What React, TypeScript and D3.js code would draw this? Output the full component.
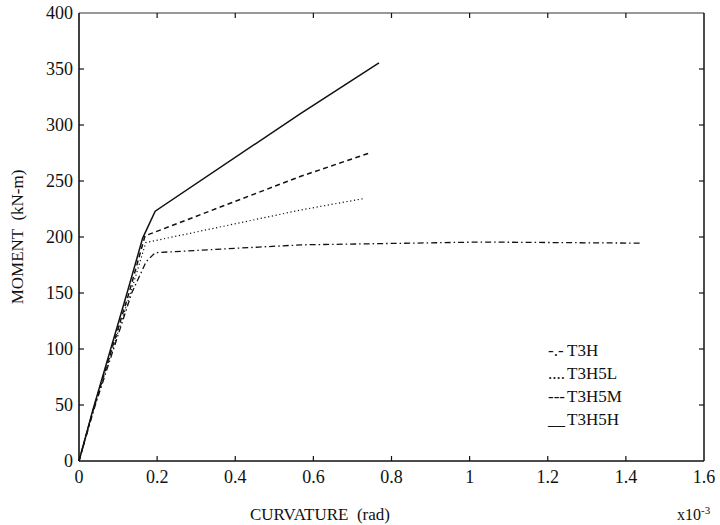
import React from "react";
import * as d3 from "d3";

const xTicks = [0, 0.2, 0.4, 0.6, 0.8, 1, 1.2, 1.4, 1.6];
const yTicks = [0, 50, 100, 150, 200, 250, 300, 350, 400];

const t3hX = [0, 0.04, 0.135, 0.172, 0.195, 0.46, 0.57, 1.03, 1.436];
const t3hY = [0, 48, 150, 178, 186, 191, 193, 195.5, 194.5];
const t3h5lX = [0, 0.04, 0.132, 0.171, 0.566, 0.732];
const t3h5lY = [0, 50, 150, 195, 224, 234.5];
const t3h5mX = [0, 0.04, 0.128, 0.169, 0.566, 0.748];
const t3h5mY = [0, 50, 150, 201, 254, 275.5];
const t3h5hX = [0, 0.035, 0.123, 0.163, 0.195, 0.566, 0.768];
const t3h5hY = [0, 45, 150, 199, 223, 310, 355.5];

const seriesNames = ["T3H", "T3H5L", "T3H5M", "T3H5H"];
const legendMarks = ["-.-", "....", "---", "__"];

export default function App() {
  const W = 720, H = 525;
  const left = 79, right = 704, top = 13, bottom = 461;
  const x = d3.scaleLinear().domain([0, 1.6]).range([left, right]);
  const y = d3.scaleLinear().domain([0, 400]).range([bottom, top]);
  const line = d3.line<[number, number]>().x(d => x(d[0])).y(d => y(d[1]));
  const mk = (xs: number[], ys: number[]) => xs.map((v, i) => [v, ys[i]] as [number, number]);
  const series = [
    { d: mk(t3hX, t3hY), dash: "6 3 1.5 3", w: 1.3 },
    { d: mk(t3h5lX, t3h5lY), dash: "1.2 2.6", w: 1.2 },
    { d: mk(t3h5mX, t3h5mY), dash: "5 3.5", w: 1.5 },
    { d: mk(t3h5hX, t3h5hY), dash: "none", w: 1.5 },
  ];
  const tf: React.CSSProperties = { fontFamily: "'Liberation Serif', 'DejaVu Serif', 'Times New Roman', serif" };
  return (
    <svg width={W} height={H} style={{ position: "absolute", left: 0, top: 0, background: "#fff" }}>
      <rect x={0} y={0} width={W} height={H} fill="#fff" />
      <line x1={left} y1={bottom} x2={right} y2={bottom} stroke="#111" strokeWidth={1.6} />
      <line x1={left} y1={top} x2={right} y2={top} stroke="#333" strokeWidth={1.1} />
      <line x1={left} y1={top} x2={left} y2={bottom} stroke="#111" strokeWidth={1.6} />
      <line x1={right} y1={top} x2={right} y2={bottom} stroke="#111" strokeWidth={1.5} />
      {xTicks.slice(1, -1).map(t => (
        <g key={"xt" + t}>
          <line x1={x(t)} x2={x(t)} y1={bottom} y2={bottom - 5} stroke="#111" strokeWidth={1.2} />
          <line x1={x(t)} x2={x(t)} y1={top} y2={top + 5} stroke="#111" strokeWidth={1.2} />
        </g>
      ))}
      {yTicks.slice(1, -1).map(t => (
        <g key={"yt" + t}>
          <line x1={left} x2={left + 5} y1={y(t)} y2={y(t)} stroke="#111" strokeWidth={1.2} />
          <line x1={right} x2={right - 5} y1={y(t)} y2={y(t)} stroke="#111" strokeWidth={1.2} />
        </g>
      ))}
      {xTicks.map(t => (
        <text key={"xl" + t} x={x(t)} y={483} textAnchor="middle" style={tf} fontSize={18} fill="#111">
          {String(t)}
        </text>
      ))}
      {yTicks.map(t => (
        <text key={"yl" + t} x={73} y={y(t) + 6} textAnchor="end" style={tf} fontSize={18} fill="#111">
          {String(t)}
        </text>
      ))}
      {series.map((s, i) => (
        <path key={i} d={line(s.d) || ""} fill="none" stroke="#111" strokeWidth={s.w} strokeDasharray={s.dash} />
      ))}
      <text x={320} y={520} textAnchor="middle" style={tf} fontSize={17} fill="#111" xmlSpace="preserve">CURVATURE  (rad)</text>
      <text x={677} y={520} style={tf} fontSize={16} fill="#111">
        x10<tspan dy={-6} fontSize={11}>-3</tspan>
      </text>
      <text transform={`translate(23,${(top + bottom) / 2}) rotate(-90)`} textAnchor="middle" style={tf} fontSize={17} fill="#111" xmlSpace="preserve">
        MOMENT  (kN-m)
      </text>
      {seriesNames.map((n, i) => (
        <g key={n}>
          <text x={548} y={356 + i * 23} style={tf} fontSize={17} fill="#111">{legendMarks[i]}</text>
          <text x={567} y={356 + i * 23} style={tf} fontSize={17} fill="#111">{n}</text>
        </g>
      ))}
    </svg>
  );
}
